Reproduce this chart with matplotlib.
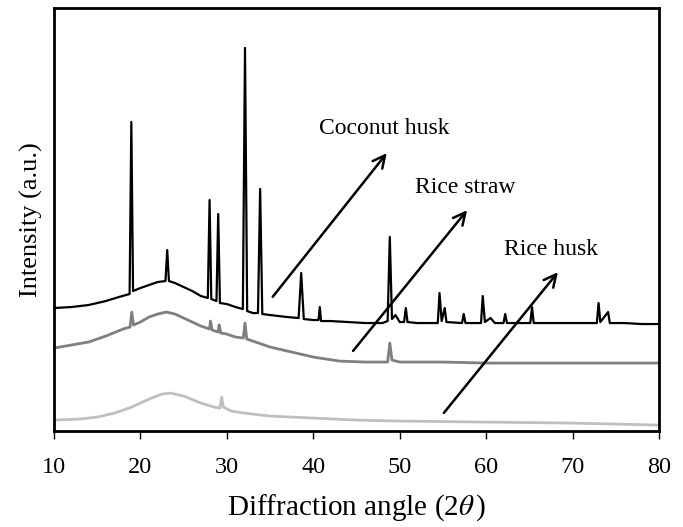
import matplotlib.pyplot as plt

plt.rcParams['font.family'] = ['Liberation Serif', 'DejaVu Serif']
plt.rcParams['mathtext.fontset'] = 'stix'

# coconut husk (black)
coconut_x = [10, 12, 14, 16, 17.5, 18.75, 18.95, 19.15, 20, 21, 22, 22.9, 23.1, 23.3,
             24, 25, 26, 27, 27.8, 28.0, 28.2, 28.8, 29.0, 29.2, 30, 31, 31.85, 32.1, 32.35,
             33, 33.6, 33.85, 34.1, 35, 36, 37, 38.3, 38.6, 38.9, 40, 40.6, 40.75, 40.9,
             42, 44, 46, 48, 48.6, 48.85, 49.1, 49.5, 50, 50.5, 50.7, 50.9, 52,
             54.4, 54.6, 54.85, 55.2, 55.4, 57.2, 57.4, 57.6, 59.4, 59.6, 59.85, 60.5, 61,
             62, 62.2, 62.4, 65.1, 65.3, 65.5, 68, 72.8, 73.0, 73.2, 74.1, 74.3, 76, 78, 80]
coconut_y = [123, 124, 126, 130, 134, 137, 309, 140, 143, 146, 149, 150, 181, 150,
             148, 144, 140, 135, 133, 231, 132, 130, 217, 128, 127, 124, 122, 383, 120,
             118, 118, 242, 117, 116, 115, 114, 113, 158, 112, 111, 111, 124, 110,
             110, 109, 108, 108, 110, 194, 112, 116, 109, 109, 123, 109, 108,
             108, 138, 110, 123, 109, 108, 117, 108, 108, 135, 109, 113, 108,
             108, 117, 108, 108, 124, 108, 108, 108, 128, 109, 119, 108, 108, 107, 107]

# rice straw (grey)
straw_x = [10, 12, 14, 16, 18, 18.8, 19.0, 19.2, 20, 21, 22, 23, 24, 25, 26, 27,
           28, 28.1, 28.3, 29, 29.1, 29.3, 30, 31, 31.9, 32.1, 32.3, 33, 35, 37, 40,
           43, 46, 48.6, 48.85, 49.1, 50, 55, 60, 65, 70, 75, 80]
straw_y = [83, 86, 89, 95, 102, 104, 119, 106, 109, 114, 117, 119, 117, 113, 109, 105,
           102, 110, 101, 99, 106, 98, 97, 94, 93, 108, 92, 90, 84, 80, 74,
           70, 69, 69, 88, 71, 69, 69, 68, 68, 68, 68, 68]

# rice husk (light grey)
husk_x = [10, 13, 15, 17, 19, 21, 22.5, 23.5, 25, 27, 28.5, 29.2, 29.4, 29.6,
          30.5, 32, 35, 40, 45, 50, 60, 70, 80]
husk_y = [11, 12, 14, 18, 24, 32, 37, 38, 35, 28, 24, 23, 34, 24,
          20, 18, 15, 13, 11, 10, 9, 8, 6]

labels = ['Coconut husk', 'Rice straw', 'Rice husk']
xticks = [10, 20, 30, 40, 50, 60, 70, 80]

fig = plt.figure(figsize=(6.83, 5.27), dpi=100)
ax = fig.add_axes([0.079, 0.182, 0.886, 0.803])

ax.plot(husk_x, husk_y, color='#bfbfbf', lw=2.0)
ax.plot(straw_x, straw_y, color='#7f7f7f', lw=2.0)
ax.plot(coconut_x, coconut_y, color='black', lw=1.6)

# arrows (data coords) and labels
arrow_pts = [((35.1, 132), (48.7, 280)),
             ((44.4, 78), (58.0, 223)),
             ((54.9, 16), (68.5, 161))]
label_pos = [(48.2, 302), (57.6, 243), (67.5, 182)]
for (p0, p1), lab, lp in zip(arrow_pts, labels, label_pos):
    ax.annotate('', xy=p1, xytext=p0,
                arrowprops=dict(arrowstyle='->', color='black', lw=1.8,
                                mutation_scale=22))
    ax.text(lp[0], lp[1], lab, fontsize=17, ha='center', va='center')

ax.set_xlim(10, 80)
ax.set_ylim(0, 423)
ax.set_xticks(xticks)
ax.set_yticks([])
ax.tick_params(axis='x', direction='out', length=6, width=1, labelsize=17.5, pad=13)
for s in ax.spines.values():
    s.set_linewidth(2)

ax.set_xlabel(r'Diffraction angle (2$\theta\,$)', fontsize=21, labelpad=10)
ax.set_ylabel('Intensity (a.u.)', fontsize=19, labelpad=8)

fig.savefig('out.png', dpi=100)
